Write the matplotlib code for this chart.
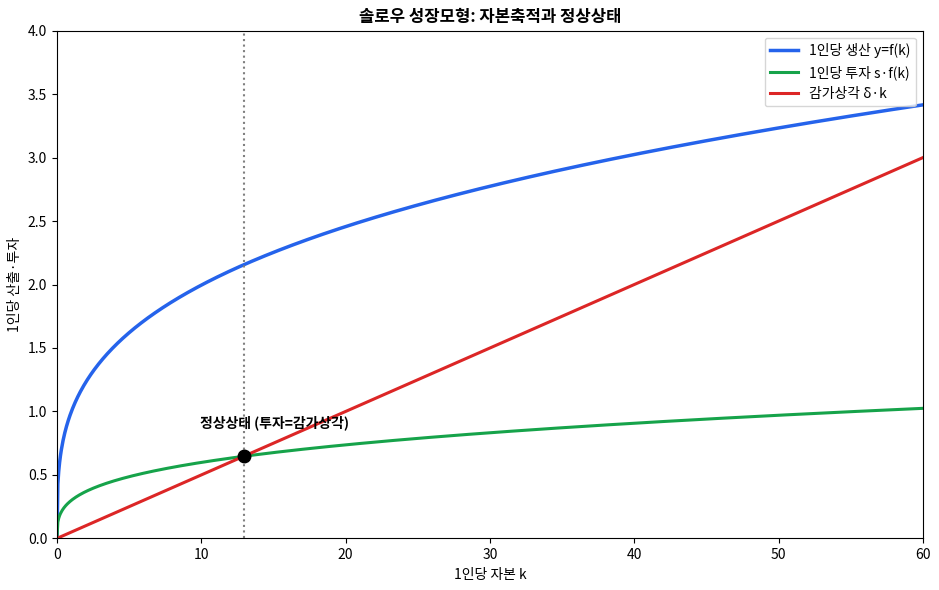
import numpy as np
import matplotlib
matplotlib.use("Agg")
import matplotlib.pyplot as plt

plt.rcParams['font.family'] = ['Noto Sans CJK KR', 'DejaVu Sans']
plt.rcParams['axes.unicode_minus'] = False

alpha = 0.3
s = 0.3
delta = 0.05
k_max = 60
labels = ['1인당 생산 y=f(k)', '1인당 투자 s·f(k)', '감가상각 δ·k']
colors = ['#2563eb', '#16a34a', '#dc2626']

k = np.linspace(0, k_max, 1000)
y = k ** alpha
inv = s * y
dep = delta * k
k_star = (s / delta) ** (1 / (1 - alpha))
i_star = delta * k_star

fig, ax = plt.subplots(figsize=(9.39, 5.90), dpi=100)
ax.plot(k, y, color=colors[0], lw=2.5, label=labels[0])
ax.plot(k, inv, color=colors[1], lw=2.2, label=labels[1])
ax.plot(k, dep, color=colors[2], lw=2.2, label=labels[2])
ax.axvline(k_star, color='gray', ls=':', lw=1.5)
ax.plot([k_star], [i_star], 'o', color='black', ms=9, zorder=5)
ax.annotate('정상상태 (투자=감가상각)', (k_star, i_star), xytext=(k_star - 3, i_star + 0.23),
            ha='left', fontsize=10, fontweight='bold')
ax.set_xlim(0, k_max)
ax.set_ylim(0, 4)
ax.set_xlabel('1인당 자본 k')
ax.set_ylabel('1인당 산출·투자')
ax.set_title('솔로우 성장모형: 자본축적과 정상상태', fontweight='bold', fontsize=12)
ax.legend(loc='upper right')
fig.tight_layout(pad=0.6)
fig.savefig('out.png', dpi=100)
